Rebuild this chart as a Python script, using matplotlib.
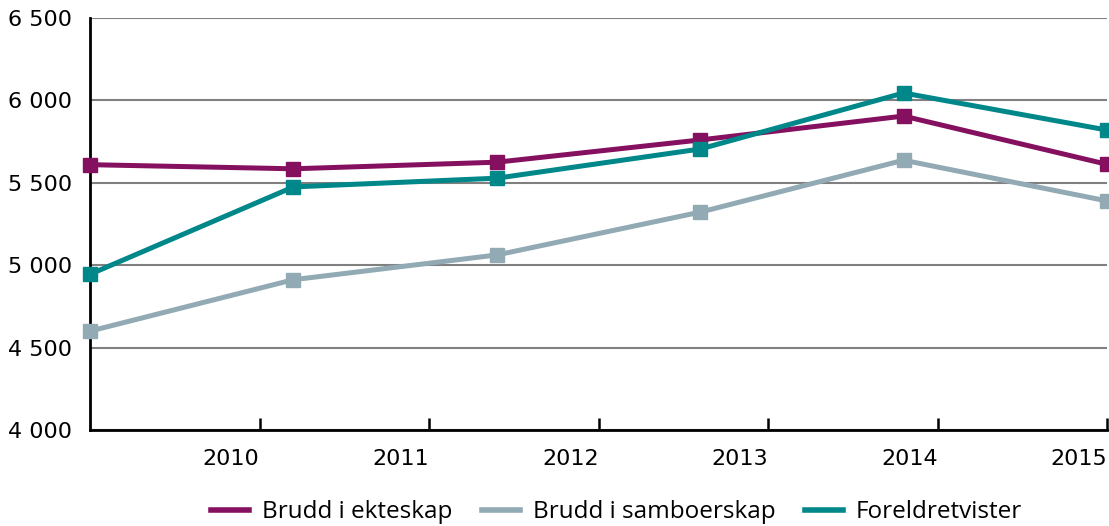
import matplotlib.pyplot as plt

# Data
years = ["2010", "2011", "2012", "2013", "2014", "2015"]
ekteskap = [5610, 5585, 5625, 5760, 5905, 5612]
samboerskap = [4600, 4912, 5062, 5322, 5637, 5390]
foreldretvister = [4945, 5475, 5528, 5705, 6045, 5820]

series = [
    ("Brudd i ekteskap", ekteskap, "#84105f"),
    ("Brudd i samboerskap", samboerskap, "#91aab4"),
    ("Foreldretvister", foreldretvister, "#00878a"),
]

fig = plt.figure(figsize=(11.09, 5.26), dpi=100)
ax = fig.add_axes([90 / 1109, 96 / 526, 1017 / 1109, 412 / 526])

x = list(range(len(years)))
for name, vals, col in series:
    ax.plot(x, vals, color=col, lw=3.6, marker="s", ms=10, label=name,
            solid_joinstyle="miter", clip_on=False, zorder=3)

ax.set_xlim(0, len(years) - 1)
ax.set_ylim(4000, 6500)
ax.set_yticks([4000, 4500, 5000, 5500, 6000, 6500])
ax.set_yticklabels(["4 000", "4 500", "5 000", "5 500", "6 000", "6 500"],
                   fontfamily="DejaVu Sans", fontsize=16)
ax.yaxis.grid(True, color="#808080", lw=1.5)
ax.set_axisbelow(True)

# year ticks sit at category boundaries, labels end at the tick
step = (len(years) - 1) / len(years)
ax.set_xticks([step * (i + 1) for i in range(len(years))])
ax.set_xticklabels(years, fontfamily="DejaVu Sans", fontsize=16, ha="right")
ax.tick_params(axis="x", direction="in", length=9, width=1.8, pad=14)
ax.tick_params(axis="y", length=0, pad=13)

for s in ["top", "right"]:
    ax.spines[s].set_visible(False)
for s in ["left", "bottom"]:
    ax.spines[s].set_linewidth(2)

leg = fig.legend(loc="center", bbox_to_anchor=(0.556, 0.026), ncol=3, frameon=False,
                 prop={"family": "Open Sans", "size": 17.5}, handlelength=1.56,
                 handletextpad=0.55, columnspacing=1.2)
for h in leg.get_lines():
    h.set_marker("")
    h.set_linewidth(4)

fig.savefig("out.png", dpi=100)
